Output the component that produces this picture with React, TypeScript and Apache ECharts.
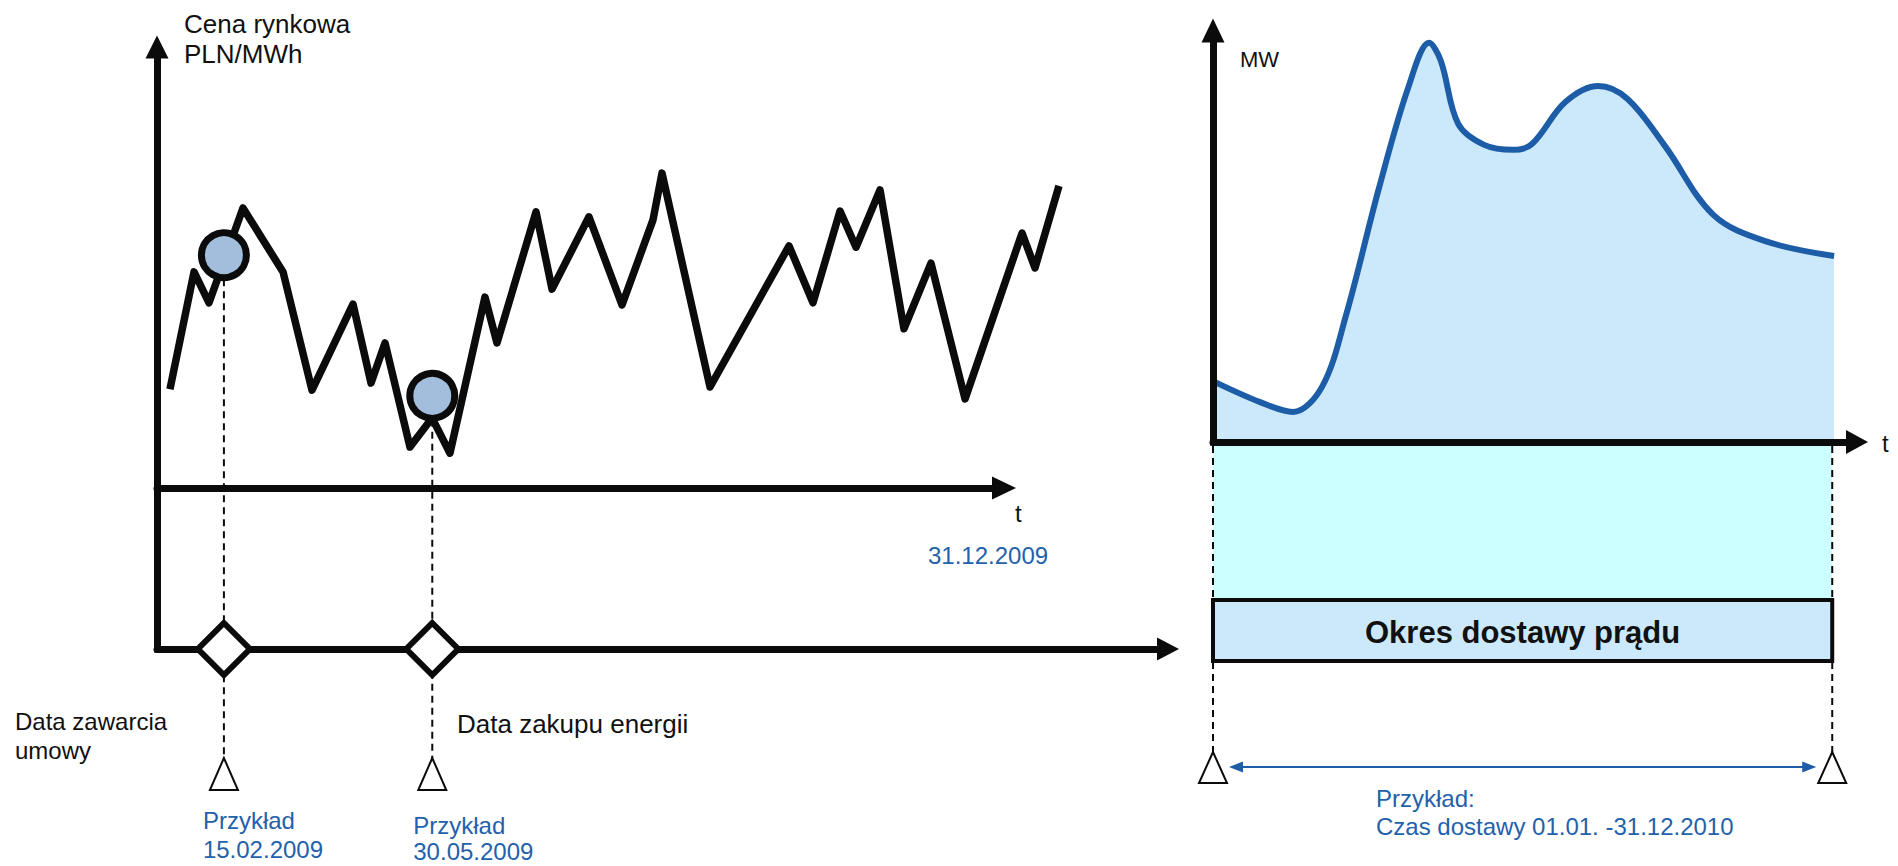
import React, { useEffect, useRef } from "react";
import * as echarts from "echarts";

// ---------- data ----------
// left panel: market price path (abstract time units, price units)
const priceT = [1.53, 4.37, 6.14, 10.15, 14.88, 18.3, 23.14, 25.27, 26.92, 29.87, 32.47, 34.59, 38.72, 40.14, 44.75, 46.64, 51.0, 54.9, 58.56, 59.62, 65.29, 74.62, 77.45, 80.64, 82.53, 85.36, 88.19, 91.38, 95.4, 102.13, 103.66, 106.49];
const priceValues = [22.4, 49.0, 42.0, 63.5, 49.0, 22.2, 41.7, 23.8, 32.9, 9.3, 15.9, 7.9, 43.3, 32.9, 62.6, 45.1, 61.5, 41.5, 60.8, 71.4, 22.9, 54.9, 42.0, 62.8, 54.6, 67.6, 36.1, 51.0, 20.2, 57.8, 49.9, 68.5];
// price axis ends at 31.12.2009 (time unit 100)
const priceAxisEnd = 100;
const priceScaleMax = 110;
// events: contract date, energy purchase date
const eventT = [7.9, 32.5];
const eventPrice = [52.8, 20.9];
const eventLabels = ["15.02.2009", "30.05.2009"];
// right panel: load profile during delivery (0..100 = delivery period)
const loadT = [0, 7.6, 12.9, 17.6, 21.5, 26.8, 31.5, 34.9, 36.8, 39.6, 43.8, 48.5, 51.5, 56.9, 62.2, 66.9, 73.0, 80.8, 89.2, 100.3];
const loadValues = [14.8, 9.7, 7.3, 13.4, 30.9, 61.7, 86.0, 97.0, 92.6, 77.3, 72.2, 71.0, 72.4, 82.6, 86.5, 83.4, 71.9, 55.2, 48.8, 45.2];
const deliveryStart = 0;
const deliveryEnd = 100;

const PRICE_MIN = -36.5;

const BLACK = "#0b0b0b";
const BLUE_TEXT = "#2361ab";
const CURVE = "#1d5ca6";
const AREA = "#cce9fc";
const CYAN = "#ccffff";
const FONT = '"Liberation Sans", Arial, sans-serif';

function txt(text: string, x: number, baseline: number, size: number, color: string, weight = "normal", align = "left") {
  return {
    type: "text",
    z: 30,
    silent: true,
    style: {
      text,
      x,
      y: baseline - 0.3465 * size,
      font: `${weight} ${size}px ${FONT}`,
      fill: color,
      align,
      verticalAlign: "middle",
    },
  };
}

export default function App() {
  const ref = useRef<HTMLDivElement>(null);
  useEffect(() => {
    if (!ref.current) return;
    const chart = echarts.init(ref.current, null, { renderer: "svg" });
    const axisCommon = {
      axisTick: { show: false },
      axisLabel: { show: false },
      splitLine: { show: false },
    };
    const unit = 847 / priceAxisEnd;
    chart.setOption({
      animation: false,
      backgroundColor: "#ffffff",
      grid: [
        { left: 157, top: 47, width: unit * priceScaleMax, height: 602 },
        { left: 1213, top: 30.5, width: 644, height: 411.5 },
        { left: 157, top: 600, width: 1011, height: 49 },
        { left: 157, top: 47, width: 847, height: 441 },
      ],
      xAxis: [
        {
          gridIndex: 0, type: "value", min: 0, max: priceScaleMax, ...axisCommon,
          axisLine: { show: false },
        },
        {
          gridIndex: 1, type: "value", min: 0, max: 104, z: 5, ...axisCommon,
          axisLine: { show: true, symbol: ["none", "triangle"], symbolSize: [24, 22], lineStyle: { color: BLACK, width: 7 } },
        },
        {
          gridIndex: 2, type: "value", min: 0, max: 1, ...axisCommon,
          axisLine: { show: true, onZero: false, symbol: ["none", "triangle"], symbolSize: [23, 22], lineStyle: { color: BLACK, width: 7 } },
        },
        {
          gridIndex: 3, type: "value", min: 0, max: priceAxisEnd, ...axisCommon,
          axisLine: { show: true, onZero: false, symbol: ["none", "triangle"], symbolSize: [23, 24], lineStyle: { color: BLACK, width: 7 } },
        },
      ],
      yAxis: [
        {
          gridIndex: 0, type: "value", min: PRICE_MIN, max: 100, ...axisCommon,
          axisLine: { show: true, onZero: false, symbol: ["none", "triangle"], symbolSize: [23, 23], lineStyle: { color: BLACK, width: 7, cap: "square" } },
        },
        {
          gridIndex: 1, type: "value", min: 0, max: 100, z: 5, ...axisCommon,
          axisLine: { show: true, symbol: ["none", "triangle"], symbolSize: [23, 24], lineStyle: { color: BLACK, width: 7, cap: "square" } },
        },
        { gridIndex: 2, type: "value", min: 0, max: 1, show: false },
        { gridIndex: 3, type: "value", min: 0, max: 100, show: false },
      ],
      series: [
        {
          type: "line",
          xAxisIndex: 0, yAxisIndex: 0,
          data: priceT.map((t, i) => [t, priceValues[i]]),
          showSymbol: false,
          clip: false,
          lineStyle: { color: BLACK, width: 7.5, join: "round", cap: "butt" },
          z: 3,
        },
        {
          type: "scatter",
          xAxisIndex: 0, yAxisIndex: 0,
          data: eventT.map((t, i) => [t, eventPrice[i]]),
          symbol: "circle",
          symbolSize: 45,
          clip: false,
          itemStyle: { color: "#a3bedd", borderColor: BLACK, borderWidth: 7, opacity: 1 },
          z: 4,
        },
        {
          type: "scatter",
          xAxisIndex: 0, yAxisIndex: 0,
          data: eventT.map((t) => [t, PRICE_MIN]),
          symbol: "diamond",
          symbolSize: 52,
          clip: false,
          itemStyle: { color: "#ffffff", borderColor: BLACK, borderWidth: 6, opacity: 1 },
          z: 4,
        },
        {
          type: "line",
          xAxisIndex: 1, yAxisIndex: 1,
          data: loadT.map((t, i) => [t, loadValues[i]]),
          smooth: 0.35,
          showSymbol: false,
          clip: false,
          lineStyle: { color: CURVE, width: 6 },
          areaStyle: { color: AREA, opacity: 1 },
          z: 2,
        },
      ],
    });

    const px = (g: number, pt: number[]) => chart.convertToPixel({ gridIndex: g } as any, pt) as number[];
    const g: any[] = [];

    // left panel annotations
    eventT.forEach((t, i) => {
      const c = px(0, [t, eventPrice[i]]);
      const x = c[0];
      g.push({
        type: "line", z: 1, silent: true,
        shape: { x1: x, y1: c[1], x2: x, y2: 758 },
        style: { stroke: BLACK, lineWidth: 2, lineDash: [7, 5] },
      });
      g.push({
        type: "polygon", z: 5, silent: true,
        shape: { points: [[x, 758], [x - 14, 790], [x + 14, 790]] },
        style: { fill: "#ffffff", stroke: BLACK, lineWidth: 2 },
      });
    });
    const e0 = px(0, [eventT[0], 0])[0];
    const e1 = px(0, [eventT[1], 0])[0];
    g.push(txt("Cena rynkowa", 184, 33, 26, "#111"));
    g.push(txt("PLN/MWh", 184, 63, 26, "#111"));
    g.push(txt("t", 1015, 522, 24, "#111"));
    g.push(txt("31.12.2009", 928, 564, 24, BLUE_TEXT));
    g.push(txt("Data zawarcia", 15, 730, 24, "#111"));
    g.push(txt("umowy", 15, 759, 24, "#111"));
    g.push(txt("Data zakupu energii", 457, 733, 26, "#111"));
    g.push(txt("Przykład", e0 - 21, 829, 24, BLUE_TEXT));
    g.push(txt(eventLabels[0], e0 - 21, 858, 24, BLUE_TEXT));
    g.push(txt("Przykład", e1 - 19, 834, 24, BLUE_TEXT));
    g.push(txt(eventLabels[1], e1 - 19, 860, 24, BLUE_TEXT));

    // right panel annotations
    const s = px(1, [deliveryStart, 0]);
    const e = px(1, [deliveryEnd, 0]);
    const xs = s[0];
    const xe = e[0];
    const axisY = s[1];
    g.push({
      type: "rect", z: 0, silent: true,
      shape: { x: xs, y: axisY + 3, width: xe - xs, height: 600 - axisY - 3 },
      style: { fill: CYAN },
    });
    [xs, xe].forEach((x) => {
      g.push({
        type: "line", z: 1, silent: true,
        shape: { x1: x, y1: axisY + 4, x2: x, y2: 752 },
        style: { stroke: BLACK, lineWidth: 2, lineDash: [7, 5] },
      });
      g.push({
        type: "polygon", z: 5, silent: true,
        shape: { points: [[x, 752], [x - 14, 783], [x + 14, 783]] },
        style: { fill: "#ffffff", stroke: BLACK, lineWidth: 2 },
      });
    });
    g.push({
      type: "rect", z: 3, silent: true,
      shape: { x: xs, y: 600, width: xe - xs, height: 61 },
      style: { fill: AREA, stroke: BLACK, lineWidth: 4 },
    });
    g.push(txt("Okres dostawy prądu", (xs + xe) / 2, 643, 31, "#111", "bold", "center"));
    // double arrow for delivery period
    const ay = 767;
    const ax1 = xs + 16;
    const ax2 = xe - 16;
    g.push({
      type: "line", z: 4, silent: true,
      shape: { x1: ax1 + 6, y1: ay, x2: ax2 - 6, y2: ay },
      style: { stroke: CURVE, lineWidth: 2 },
    });
    g.push({
      type: "polygon", z: 4, silent: true,
      shape: { points: [[ax1, ay], [ax1 + 14, ay - 5.5], [ax1 + 14, ay + 5.5]] },
      style: { fill: CURVE },
    });
    g.push({
      type: "polygon", z: 4, silent: true,
      shape: { points: [[ax2, ay], [ax2 - 14, ay - 5.5], [ax2 - 14, ay + 5.5]] },
      style: { fill: CURVE },
    });
    g.push(txt("MW", 1240, 67, 22, "#111"));
    g.push(txt("t", 1882, 452, 24, "#111"));
    g.push(txt("Przykład:", 1376, 807, 24, BLUE_TEXT));
    g.push(txt("Czas dostawy 01.01. -31.12.2010", 1376, 835, 24, BLUE_TEXT));

    chart.setOption({ graphic: g });
    return () => chart.dispose();
  }, []);
  return (
    <div
      ref={ref}
      style={{ position: "absolute", left: 0, top: 0, width: 1898, height: 866, background: "#fff" }}
    />
  );
}
